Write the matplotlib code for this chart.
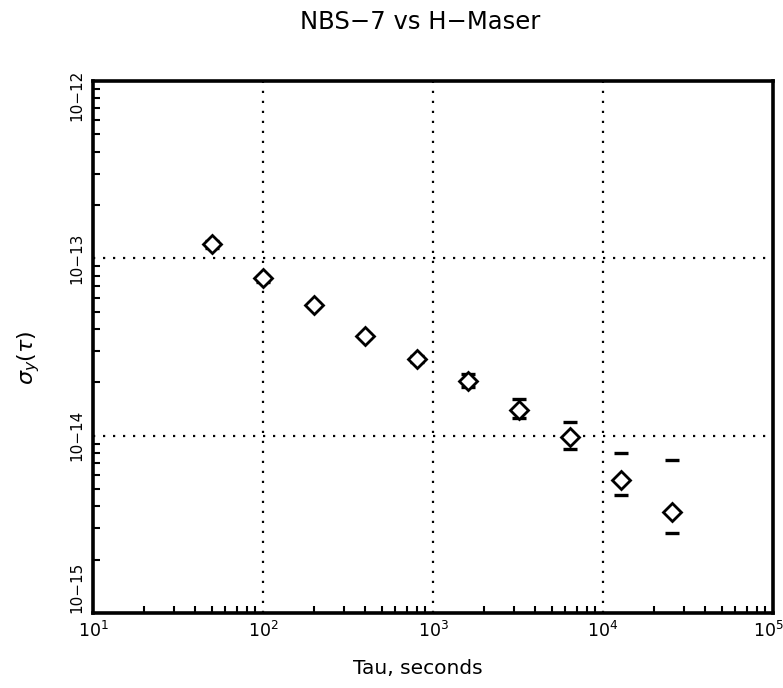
import numpy as np
import matplotlib
matplotlib.use('Agg')
import matplotlib.pyplot as plt
import matplotlib.transforms as mtransforms
from matplotlib.ticker import LogLocator, NullFormatter

# Allan deviation, NBS-7 against the hydrogen maser
tau = [50, 100, 200, 400, 800, 1600, 3200, 6400, 12800, 25600]
sigma = [1.20e-13, 7.7e-14, 5.45e-14, 3.65e-14, 2.70e-14, 2.03e-14, 1.39e-14, 9.8e-15, 5.62e-15, 3.71e-15]
sigma_hi = [1.25e-13, 8.0e-14, 5.6e-14, 3.75e-14, 2.8e-14, 2.22e-14, 1.61e-14, 1.19e-14, 7.98e-15, 7.28e-15]
sigma_lo = [1.15e-13, 7.4e-14, 5.3e-14, 3.55e-14, 2.6e-14, 1.88e-14, 1.26e-14, 8.4e-15, 4.63e-15, 2.82e-15]

x_ticks = [1e1, 1e2, 1e3, 1e4, 1e5]
x_ticklabels = ['$10^{1}$', '$10^{2}$', '$10^{3}$', '$10^{4}$', '$10^{5}$']
y_ticks = [1e-15, 1e-14, 1e-13, 1e-12]
y_ticklabels = ['10\u221215', '10\u221214', '10\u221213', '10\u221212']

fig = plt.figure(figsize=(7.83, 6.88), dpi=100)
ax = fig.add_axes([0.1188, 0.109, 0.8685, 0.7733])

ax.set_xscale('log')
ax.set_yscale('log')
ax.set_xlim(1e1, 1e5)
ax.set_ylim(1e-15, 1e-12)

sig = np.array(sigma)
yerr = [sig - np.array(sigma_lo), np.array(sigma_hi) - sig]
ax.errorbar(tau, sigma, yerr=yerr, fmt='none', ecolor='black', elinewidth=0,
            capsize=5, capthick=2.4, zorder=3)
ax.plot(tau, sigma, linestyle='none', marker='D', markersize=9.5,
        markerfacecolor='white', markeredgecolor='black', markeredgewidth=2, zorder=4)

# dotted grid at the decades only
for xv in x_ticks[1:-1]:
    ax.axvline(xv, color='black', linestyle=(0, (1, 3.5)), linewidth=1.6, zorder=1)
for yv in y_ticks[1:-1]:
    ax.axhline(yv, color='black', linestyle=(0, (1, 3.5)), linewidth=1.6, zorder=1)

ax.set_xticks(x_ticks)
ax.set_xticklabels(x_ticklabels, fontsize=12.5)
ax.set_yticks(y_ticks)
ax.set_yticklabels(y_ticklabels, fontsize=11, rotation=90, va='center')

ax.xaxis.set_minor_locator(LogLocator(base=10, subs=np.arange(2, 10), numticks=20))
ax.yaxis.set_minor_locator(LogLocator(base=10, subs=np.arange(2, 10), numticks=20))
ax.xaxis.set_minor_formatter(NullFormatter())
ax.yaxis.set_minor_formatter(NullFormatter())
ax.tick_params(which='major', direction='in', length=0, pad=6)
ax.tick_params(axis='y', which='major', pad=6)
ax.tick_params(which='minor', direction='in', length=5, width=1.5)
ax.tick_params(top=False, right=False, which='both')

# keep the end labels inside the frame like the original
xl = ax.get_xticklabels()
xl[-1].set_transform(xl[-1].get_transform() + mtransforms.ScaledTranslation(-5 / 100, 0, fig.dpi_scale_trans))
yl = ax.get_yticklabels()
yl[-1].set_transform(yl[-1].get_transform() + mtransforms.ScaledTranslation(0, -14 / 100, fig.dpi_scale_trans))
yl[0].set_transform(yl[0].get_transform() + mtransforms.ScaledTranslation(0, 26 / 100, fig.dpi_scale_trans))

for s in ax.spines.values():
    s.set_linewidth(2.6)

fig.text(0.537, 0.968, 'NBS\u22127 vs H\u2212Maser', ha='center', va='center', fontsize=17.5)
fig.text(0.534, 0.029, 'Tau, seconds', ha='center', va='center', fontsize=14.5)
fig.text(0.037, 0.48, r'$\sigma_y(\tau)$', ha='center', va='center', fontsize=16, rotation=90)

fig.savefig('out.png', dpi=100)
